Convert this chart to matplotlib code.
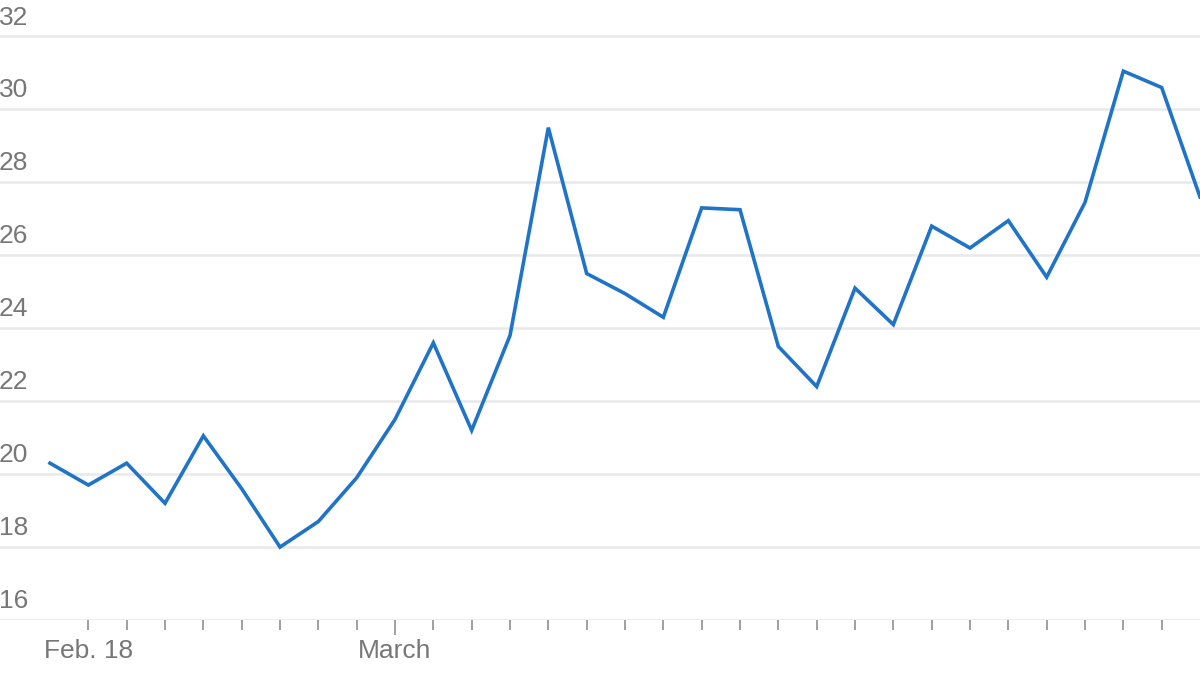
import matplotlib
matplotlib.use("Agg")
import matplotlib.pyplot as plt

# data (one point per day shown)
values = [20.3, 19.7, 20.3, 19.2, 21.05, 19.6, 18.0, 18.7, 19.9, 21.5,
          23.6, 21.2, 23.8, 29.5, 25.5, 24.95, 24.3, 27.3, 27.25, 23.5,
          22.4, 25.1, 24.1, 26.8, 26.2, 26.95, 25.4, 27.45, 31.05, 30.6,
          27.6]
label_pos = [1, 9]
label_text = ["Feb. 18", "March"]
y_ticks = [16, 18, 20, 22, 24, 26, 28, 30, 32]

line_color = "#1f74c9"
text_color = "#777777"
grid_color = "#e9e9e9"

plt.rcParams["font.family"] = ["Liberation Sans", "DejaVu Sans"]

fig = plt.figure(figsize=(12, 6.75), dpi=100)
ax = fig.add_axes([0, 55 / 675, 1, 620 / 675])

x = list(range(len(values)))
ax.plot(x, values, color=line_color, linewidth=2.6, solid_joinstyle="miter", zorder=3)

ax.set_xlim(-50 / 38.33, len(values) - 1)
ax.set_ylim(16, 33.0)

# gridlines
for v in y_ticks:
    ax.axhline(v, color=grid_color, linewidth=1.8, zorder=1)
    ax.annotate(str(v), xy=(0, v), xycoords=("axes fraction", "data"),
                xytext=(-1, 5), textcoords="offset points",
                ha="left", va="bottom", fontsize=19, color=text_color)

ax.set_yticks([])
ax.set_xticks(x[1:-1])
ax.set_xticklabels([label_text[label_pos.index(i)] if i in label_pos else "" for i in x[1:-1]])
ax.tick_params(axis="x", direction="out", length=7, width=1.3, color="#999999",
               labelsize=19, labelcolor=text_color, pad=7)
# longer tick at the start of March
ax.xaxis.get_major_ticks()[label_pos[1] - 1].tick1line.set_markersize(11)

for s in ax.spines.values():
    s.set_visible(False)

fig.savefig("out.png", dpi=100, facecolor="white")
